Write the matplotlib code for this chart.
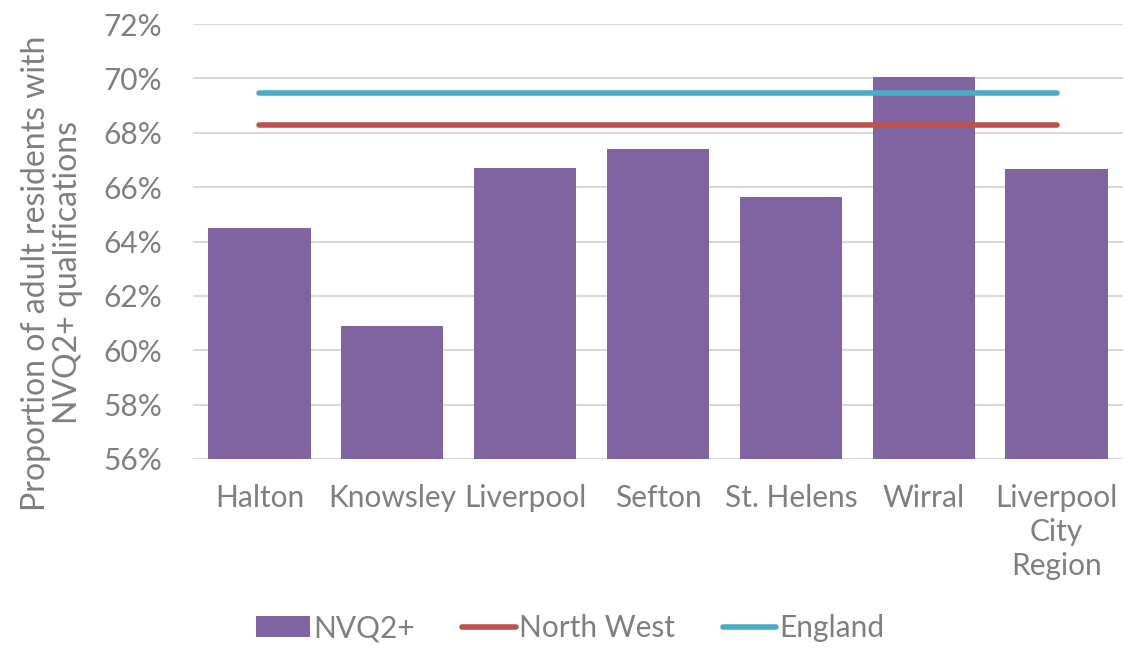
import matplotlib.pyplot as plt
import numpy as np

# data
areas = ['Halton', 'Knowsley', 'Liverpool', 'Sefton', 'St. Helens', 'Wirral',
         'Liverpool\nCity\nRegion']
nvq2 = [64.5, 60.9, 66.7, 67.4, 65.65, 70.05, 66.65]
north_west = [68.3] * len(areas)
england = [69.45] * len(areas)

purple = '#8064A2'
red = '#C0504D'
blue = '#4BACC6'
grey = '#7F7F7F'

plt.rcParams['font.family'] = ['Lato', 'DejaVu Sans']

fig = plt.figure(figsize=(11.27, 6.49), dpi=100)
ax = fig.add_axes([193 / 1127, 1 - 459 / 649, 930 / 1127, 435 / 649])

x = np.arange(len(areas))
bars = ax.bar(x, nvq2, width=0.77, color=purple, label='NVQ2+', zorder=2)
l1, = ax.plot(x, north_west, color=red, lw=4, solid_capstyle='round', label='North West', zorder=3)
l2, = ax.plot(x, england, color=blue, lw=4, solid_capstyle='round', label='England', zorder=3)

ax.set_xlim(-0.5, len(areas) - 0.5)
ax.set_ylim(56, 72)
ax.set_yticks(np.arange(56, 73, 2))
ax.set_yticklabels([f'{v}%' for v in range(56, 73, 2)])
ax.set_xticks(x)
ax.set_xticklabels(areas, linespacing=1.25)
ax.grid(axis='y', color='#D9D9D9', lw=1.5, zorder=0)
ax.set_axisbelow(True)
for s in ax.spines.values():
    s.set_visible(False)
ax.tick_params(length=0, labelsize=21.5, colors=grey)
ax.tick_params(axis='x', pad=18)
ax.tick_params(axis='y', pad=22)

# y title is centred on the whole chart area, not the axes
fig.text(52 / 1127, 1 - 273 / 649, 'Proportion of adult residents with\nNVQ2+ qualifications',
         fontsize=23, color=grey, rotation=90, ha='center', va='center',
         linespacing=1.1, multialignment='center')

fig.legend([bars, l1, l2], ['NVQ2+', 'North West', 'England'],
           loc='center', bbox_to_anchor=(0.506, 1 - 628 / 649), ncol=3, frameon=False,
           fontsize=21.5, handlelength=1.8, handletextpad=0.1, columnspacing=1.6,
           labelcolor=grey)

fig.savefig('out.png', dpi=100)
